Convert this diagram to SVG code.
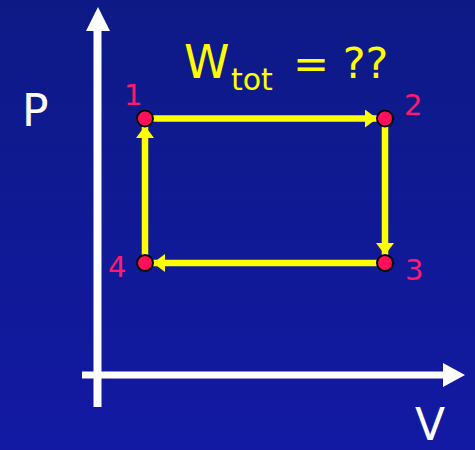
<svg xmlns="http://www.w3.org/2000/svg" width="475" height="450" viewBox="0 0 475 450">
<defs>
<linearGradient id="bg" x1="0" y1="0" x2="0" y2="1">
<stop offset="0" stop-color="#0d1a86"/>
<stop offset="1" stop-color="#1319a3"/>
</linearGradient>
<marker id="ya" markerUnits="userSpaceOnUse" markerWidth="14" markerHeight="18" refX="12" refY="9" orient="auto" viewBox="0 0 14 18">
<path d="M0,0 L12,9 L0,18 Z" fill="#ffff00"/>
</marker>
</defs>
<style>
.axis{stroke:#ffffff;fill:none}
.axh{fill:#ffffff}
.edge{stroke:#ffff00;stroke-width:6.5;fill:none;marker-end:url(#ya)}
.pt{fill:#ff0f5c;stroke:#000000;stroke-width:2}
.num{font-family:"DejaVu Sans","Noto Sans",sans-serif;font-size:29px;fill:#ff1a6e}
.axl{font-family:"DejaVu Sans","Noto Sans",sans-serif;fill:#ffffff;font-size:44px}
.ttl{font-family:"DejaVu Sans","Noto Sans",sans-serif;fill:#ffff00}
</style>
<rect width="475" height="450" fill="url(#bg)"/>
<g id="axes">
<line class="axis" x1="97.5" y1="407" x2="97.5" y2="28" stroke-width="8"/>
<path class="axh" d="M86,31 L110,31 L98,7 Z"/>
<line class="axis" x1="82" y1="375" x2="445" y2="375" stroke-width="7"/>
<path class="axh" d="M443,363 L443,387 L465,375 Z"/>
<text class="axl" x="22" y="126">P</text>
<text class="axl" x="415" y="440" font-size="40">V</text>
</g>
<text class="ttl" x="184" y="78" font-size="46">W</text>
<text class="ttl" x="231" y="90" font-size="30">tot</text>
<text class="ttl" x="293" y="78" font-size="43">= ??</text>
<g id="connectors">
<line class="edge" x1="145" y1="118.5" x2="377" y2="118.5"/>
<line class="edge" x1="385" y1="118.5" x2="385" y2="255"/>
<line class="edge" x1="385" y1="263" x2="153" y2="263"/>
<line class="edge" x1="145" y1="263" x2="145" y2="126"/>
</g>
<g id="node1"><circle class="pt" cx="145" cy="118.5" r="8"/><text class="num" x="124" y="105">1</text></g>
<g id="node2"><circle class="pt" cx="385" cy="118.5" r="8"/><text class="num" x="404" y="115">2</text></g>
<g id="node3"><circle class="pt" cx="385" cy="263" r="8"/><text class="num" x="405" y="280">3</text></g>
<g id="node4"><circle class="pt" cx="145" cy="263" r="8"/><text class="num" x="108" y="277">4</text></g>
</svg>
